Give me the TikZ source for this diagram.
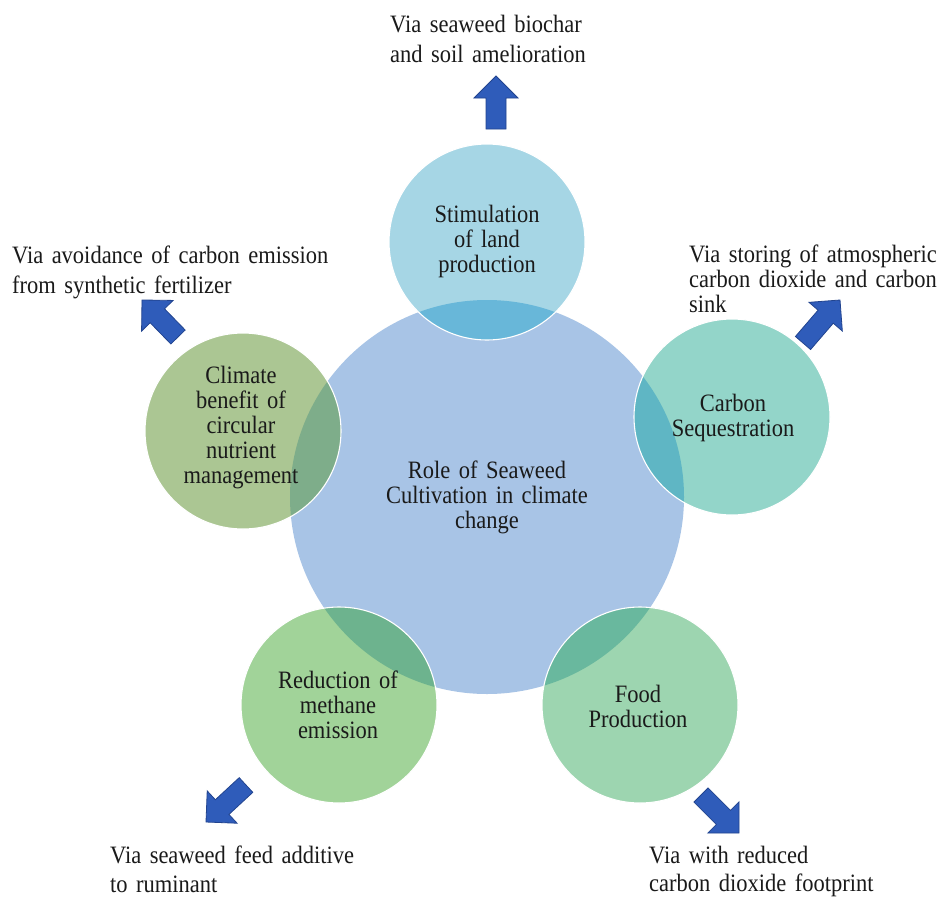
\documentclass[tikz,border=0pt]{standalone}
\usepackage{fontspec}
\setmainfont{Liberation Serif}[FakeStretch=0.9, WordSpace=1.5]
\usetikzlibrary{calc}

\definecolor{hubfill}{HTML}{A8C4E6}
\definecolor{landfill}{HTML}{A6D6E5}
\definecolor{landlap}{HTML}{68B7D9}
\definecolor{carbfill}{HTML}{93D5C9}
\definecolor{carblap}{HTML}{5FB6C4}
\definecolor{foodfill}{HTML}{9DD5B0}
\definecolor{foodlap}{HTML}{69B89E}
\definecolor{methfill}{HTML}{A1D399}
\definecolor{methlap}{HTML}{6DB38E}
\definecolor{nutrfill}{HTML}{ABC693}
\definecolor{nutrlap}{HTML}{7EAD8A}
\definecolor{arrowfill}{HTML}{2F5CBA}
\definecolor{arrowline}{HTML}{22448F}
\definecolor{inktext}{HTML}{1A1A1A}

\tikzset{
  hubdisc/.style={circle, minimum size=394pt, inner sep=0pt, fill=hubfill},
  petal/.style={circle, minimum size=196pt, inner sep=0pt},
  petaltext/.style={align=center, text=inktext, inner sep=0pt,
    font=\fontsize{25}{25}\selectfont},
  vialabel/.style={align=left, anchor=north west, text=inktext, inner sep=0pt,
    font=\fontsize{25}{30}\selectfont},
  blockarrow/.style={fill=arrowfill, draw=arrowline, line width=0.8pt, line join=miter}
}

% block arrow from tail #1 to tip #2
\newcommand{\fatarrow}[2]{%
  \path[blockarrow]
    ($(#1)!10pt!90:(#2)$) --
    ($(#2)!22pt!(#1)!10pt!-90:(#1)$) --
    ($(#2)!22pt!(#1)!22pt!-90:(#1)$) --
    (#2) --
    ($(#2)!22pt!(#1)!22pt!90:(#1)$) --
    ($(#2)!22pt!(#1)!10pt!90:(#1)$) --
    ($(#1)!10pt!-90:(#2)$) -- cycle;}

\begin{document}
\begin{tikzpicture}[x=1pt,y=-1pt]
\useasboundingbox[fill=white] (0,0) rectangle (949,899);

% central disc and the five petals
\node[hubdisc] (hub) at (487,497) {};
\node[petal, fill=landfill] (land) at (487,242) {};
\node[petal, fill=carbfill] (carb) at (732,417) {};
\node[petal, fill=foodfill] (food) at (640,705) {};
\node[petal, fill=methfill] (meth) at (339,705) {};
\node[petal, fill=nutrfill] (nutr) at (243,431) {};

% darker lenses where petals cross the central disc
\begin{scope}
  \clip (hub.center) circle (197);
  \fill[landlap] (land.center) circle (98);
  \fill[carblap] (carb.center) circle (98);
  \fill[foodlap] (food.center) circle (98);
  \fill[methlap] (meth.center) circle (98);
  \fill[nutrlap] (nutr.center) circle (98);
\end{scope}
\foreach \p in {land,carb,food,meth,nutr}
  \draw[white, line width=1.1pt] (\p.center) circle (98);

% circle captions
\node[petaltext] (hubtext) at (487,497) {Role of Seaweed\\Cultivation in climate\\change};
\node[petaltext] (landtext) at (487,241) {Stimulation\\of land\\production};
\node[petaltext] (carbtext) at (733,418) {Carbon\\Sequestration};
\node[petaltext] (foodtext) at (638,706) {Food\\Production};
\node[petaltext] (methtext) at (338,705) {Reduction of\\methane\\emission};
\node[petaltext] (nutrtext) at (241,428) {Climate\\benefit of\\circular\\nutrient\\management};

% outward block arrows
\coordinate (landtail) at (496,129);  \coordinate (landtip) at (496,76);
\coordinate (nutrtail) at (178,337);  \coordinate (nutrtip) at (142,300);
\coordinate (carbtail) at (803,343);  \coordinate (carbtip) at (840,300);
\coordinate (methtail) at (246,785);  \coordinate (methtip) at (206,822);
\coordinate (foodtail) at (701,795);  \coordinate (foodtip) at (739,833);
\fatarrow{landtail}{landtip}
\fatarrow{nutrtail}{nutrtip}
\fatarrow{carbtail}{carbtip}
\fatarrow{methtail}{methtip}
\fatarrow{foodtail}{foodtip}

% pathway labels
\node[vialabel] (landvia) at (390,14.5) {Via seaweed biochar\\and soil amelioration};
\node[vialabel] (nutrvia) at (12,245.5) {Via avoidance of carbon emission\\from synthetic fertilizer};
\node[vialabel, font=\fontsize{25}{25}\selectfont] (carbvia) at (689,244.5) {Via storing of atmospheric\\carbon dioxide and carbon\\sink};
\node[vialabel, font=\fontsize{25}{29}\selectfont] (methvia) at (110,845.5) {Via seaweed feed additive\\to ruminant};
\node[vialabel, font=\fontsize{25}{28}\selectfont] (foodvia) at (649,845.5) {Via with reduced\\carbon dioxide footprint};
\end{tikzpicture}
\end{document}
